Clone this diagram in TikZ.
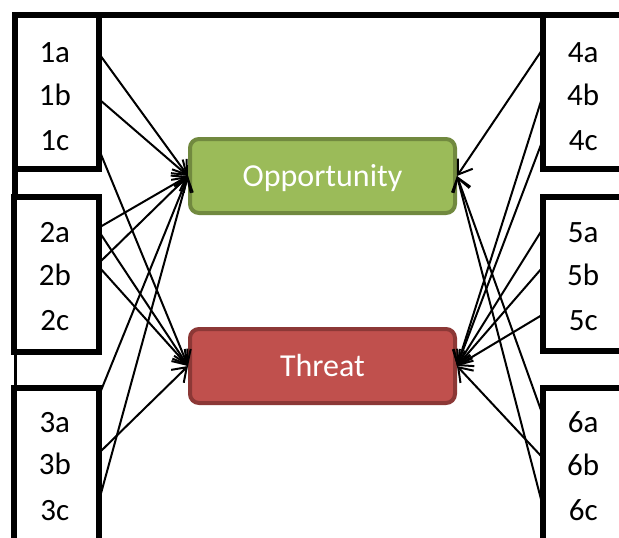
\documentclass[tikz,border=0pt]{standalone}
\usepackage{fontspec}
\setmainfont{Carlito}
\usetikzlibrary{arrows.meta}
\definecolor{oppfill}{HTML}{9BBB59}
\definecolor{oppline}{HTML}{71893F}
\definecolor{thrfill}{HTML}{C0504D}
\definecolor{thrline}{HTML}{8C3836}
\begin{document}
\begin{tikzpicture}[x=1pt,y=-1pt,
  frame/.style={line width=5.5pt},
  lbl/.style={inner sep=0pt, minimum height=30pt, text height=20pt, text depth=0pt, font=\fontsize{31}{33}\selectfont},
  llbl/.style={lbl, anchor=east, minimum width=90pt},
  rlbl/.style={lbl, anchor=west, minimum width=82pt},
  status/.style={rounded corners=9pt, line width=4pt, minimum width=265pt, minimum height=74pt, text height=20pt, text depth=0pt, text=white, font=\fontsize{32}{34}\selectfont},
  conn/.style={line width=2pt, -{Straight Barb[length=13pt,width=18pt,line width=2pt]}}
]
\useasboundingbox (0,0) rectangle (619,538);
\clip (0,0) rectangle (619,538);
\fill[white] (0,0) rectangle (619,538);
% frames
\draw[frame] (15,15) -- (619,15);
\draw[frame] (15,15) rectangle (99,169);
\draw[frame] (15,169) -- (15,197);
\draw[frame] (14,197) rectangle (99,352);
\draw[line width=3pt] (15,352) -- (15,388);
\draw[frame] (14,388) rectangle (99,560);
\draw[frame] (543,15) rectangle (640,169);
\draw[frame] (543,197) rectangle (640,351);
\draw[frame] (543,388) rectangle (640,560);
% labels
\node[llbl] (l1a) at (100,52) {1a};
\node[llbl] (l1b) at (100,95) {1b};
\node[llbl] (l1c) at (100,140) {1c};
\node[llbl] (l2a) at (100,232) {2a};
\node[llbl] (l2b) at (100,275) {2b};
\node[llbl] (l2c) at (100,320) {2c};
\node[llbl] (l3a) at (100,422) {3a};
\node[llbl] (l3b) at (100,464) {3b};
\node[llbl] (l3c) at (100,510) {3c};
\node[rlbl] (l4a) at (542,52) {4a};
\node[rlbl] (l4b) at (542,95) {4b};
\node[rlbl] (l4c) at (542,140) {4c};
\node[rlbl] (l5a) at (542,232) {5a};
\node[rlbl] (l5b) at (542,275) {5b};
\node[rlbl] (l5c) at (542,320) {5c};
\node[rlbl] (l6a) at (542,422) {6a};
\node[rlbl] (l6b) at (542,465) {6b};
\node[rlbl] (l6c) at (542,510) {6c};
% status boxes
\node[status, fill=oppfill, draw=oppline] (opp) at (322.5,176) {Opportunity};
\node[status, fill=thrfill, draw=thrline] (thr) at (322.5,366) {Threat};
% left connectors
\draw[conn] ([yshift=-3pt]l1a.east) -- (opp.west);
\draw[conn] ([yshift=-5pt]l1b.east) -- (opp.west);
\draw[conn] ([yshift=-12pt]l1c.east) -- (thr.west);
\draw[conn] ([yshift=5pt]l2a.east) -- (opp.west);
\draw[conn] ([yshift=-1pt]l2a.east) -- (thr.west);
\draw[conn] ([yshift=13pt]l2b.east) -- (opp.west);
\draw[conn] ([yshift=7pt]l2b.east) -- (thr.west);
\draw[conn] ([yshift=29pt]l3a.east) -- (opp.west);
\draw[conn] ([yshift=12pt]l3b.east) -- (thr.west);
\draw[conn] ([yshift=13pt]l3c.east) -- (opp.west);
% right connectors
\draw[conn] ([yshift=2pt]l4a.west) -- (opp.east);
\draw[conn] ([yshift=-3pt]l4b.west) -- (thr.east);
\draw[conn] ([yshift=-2pt]l4c.west) -- (thr.east);
\draw[conn] ([yshift=2pt]l5a.west) -- (thr.east);
\draw[conn] ([yshift=7pt]l5b.west) -- (thr.east);
\draw[conn] ([yshift=5pt]l5c.west) -- (thr.east);
\draw[conn] ([yshift=9pt]l6a.west) -- (opp.east);
\draw[conn] ([yshift=8pt]l6b.west) -- (thr.east);
\draw[conn] ([yshift=7pt]l6c.west) -- (opp.east);
\end{tikzpicture}
\end{document}
